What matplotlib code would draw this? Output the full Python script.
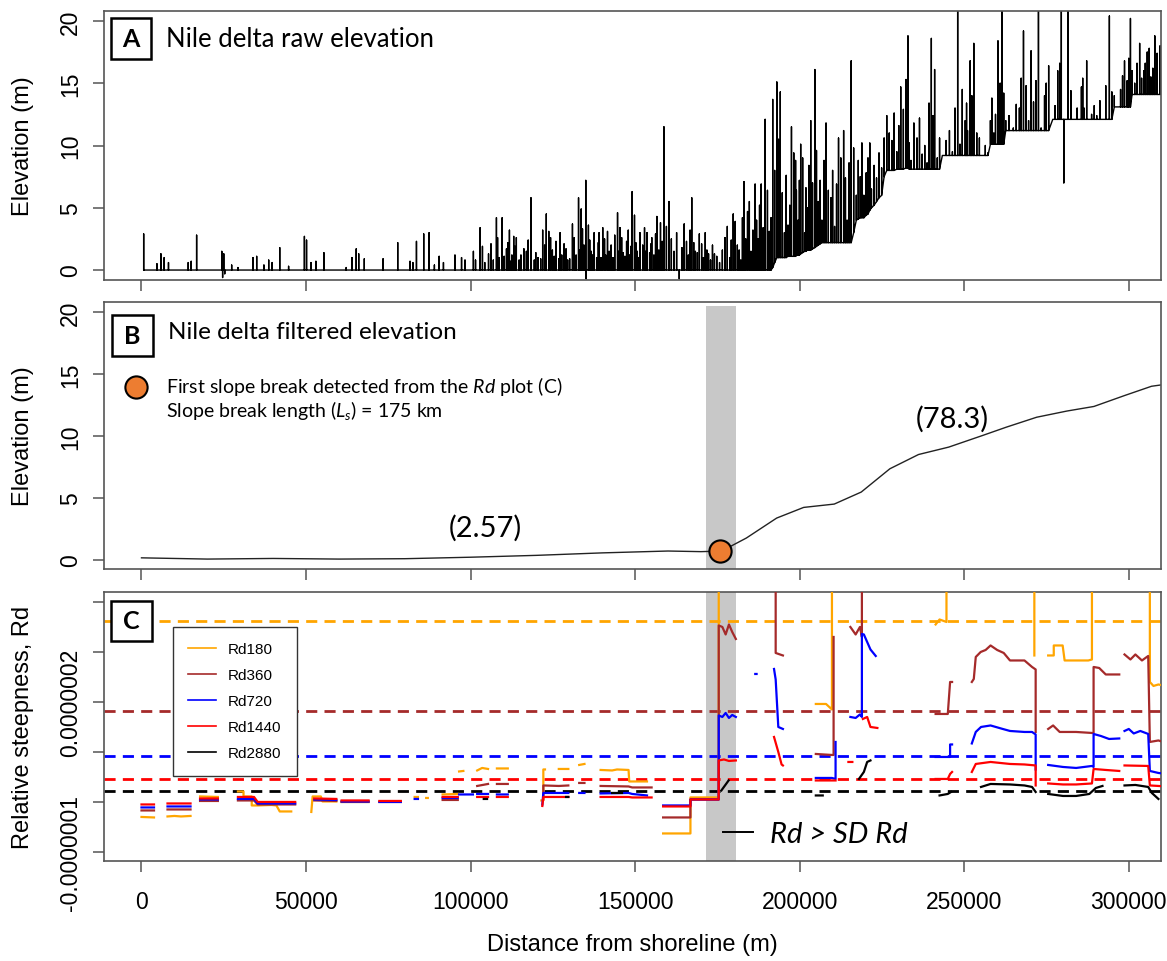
import numpy as np
import matplotlib.pyplot as plt
from matplotlib.lines import Line2D
from matplotlib.patches import Rectangle

plt.rcParams['font.family'] = ['Liberation Sans', 'DejaVu Sans']
plt.rcParams['mathtext.fontset'] = 'custom'
plt.rcParams['mathtext.rm'] = 'Lato'
plt.rcParams['mathtext.it'] = 'Lato:italic'

# =====================================================
# Data
# =====================================================

x_ticks = [0, 50000, 100000, 150000, 200000, 250000, 300000]

# raw elevation: (distance m, local floor m, spike m)
raw_spikes = [
    (660, 0, 2.9), (4700, 0, 0.5), (5900, 0, 1.3), (6900, 0, 1.0), (8200, 0, 0.6),
    (14200, 0, 0.6), (15100, 0, 0.7), (16750, 0, 2.8), (24400, 0, 1.5), (24650, 0, -0.6),
    (25000, 0, 1.3), (25300, 0, -0.3), (27400, 0, 0.4), (29300, 0, 0.2), (33900, 0, 1.0),
    (35000, 0, 1.1), (37200, 0, 0.4), (38650, 0, 0.8), (39700, 0, 0.6), (42000, 0, 1.8),
    (44700, 0, 0.3), (49500, 0, 2.7), (50150, 0, 2.4), (51500, 0, 0.6), (53000, 0, 0.7),
    (55400, 0, 1.4), (62200, 0, 0.2), (63950, 0, 1.0), (65250, 0, 1.7), (66000, 0, 1.3),
    (67700, 0, 0.9), (73400, 0, 0.9), (77850, 0, 2.2), (81600, 0, 0.7), (82450, 0, 0.6),
    (83550, 0, 2.3), (85750, 0, 2.9), (87400, 0, 3.0), (89000, 0, 0.4), (90450, 0, 1.1),
    (91750, 0, 0.6), (95250, 0, 1.2), (97250, 0, 1.0), (98300, 0, 0.8), (100850, 0, 1.5),
    (102900, 0, 3.4), (105450, 0, 1.3), (106900, 0, 0.8), (107850, 0, 4.2), (108700, 0, 1.0),
    (109600, 0, 4.2), (110900, 0, 1.7), (111800, 0, 3.2), (112550, 0, 1.2), (113100, 0, 2.7),
    (113900, 0, 2.6), (114750, 0, 0.8), (116200, 0, 1.7), (116950, 0, 1.5), (118350, 0, 5.8),
    (119350, 0, 0.8), (120450, 0, 1.0), (121900, 0, 3.2), (123000, 0, 4.5), (123750, 0, 3.1),
    (124850, 0, 1.6), (125950, 0, 2.3), (126800, 0, 0.9), (127700, 0, 1.2), (129000, 0, 1.7),
    (130100, 0, 0.9), (130950, 0, 3.7), (132050, 0, 1.2), (132800, 0, 5.8), (133600, 0, 4.9),
    (134450, 0, 2.0), (135000, 0, 7.2), (135100, 0, -0.7), (135800, 0, 3.6), (136650, 0, 1.5),
    (137550, 0, 3.0), (138300, 0, 1.0), (139050, 0, 3.0), (140150, 0, 3.4), (141050, 0, 1.2),
    (142100, 0, 1.5), (143250, 0, 1.0), (144650, 0, 4.6), (145400, 0, 3.4), (146300, 0, 1.4),
    (147400, 0, 2.3), (148250, 0, 1.2), (149100, 0, 6.3), (149800, 0, 4.4), (150650, 0, 1.5),
    (151450, 0, 3.0), (152850, 0, 3.4), (153600, 0, 3.0), (154400, 0, 1.4), (155050, 0, 2.6),
    (156600, 0, 4.3), (157700, 0, 3.8), (158750, 0, 11.5), (160300, 0, 5.5), (161800, 0, 1.5),
    (163400, 0, -0.7), (164900, 0, 3.7), (166150, 0, 1.2), (167200, 0, 5.8), (168300, 0, 1.5),
    (169500, 0, 2.9), (170750, 0, 1.0), (171800, 0, 1.6), (172900, 0, 0.8), (174100, 0, 1.3),
    (175650, 0, 0.6), (178000, 0, 3.5), (178750, 0, 1.0), (179800, 0, 4.5), (181050, 0, 2.0),
    (182100, 0, 0.8), (183050, 0, 7.1), (184150, 0, 4.7), (185200, 0, 1.5), (186450, 0, 6.9),
    (187350, 0, 2.5), (188300, 0, 6.9), (189500, 0, 12.1), (190750, 0, 3.1), (191800, 0.2, 13.7),
    (193050, 1.0, 15.1), (194100, 1.0, 14.3), (195350, 1.0, 3.0), (196450, 1.1, 3.6),
    (197500, 1.1, 11.5), (198750, 1.1, 8.8), (199500, 1.2, 4.0), (200300, 1.3, 10.1),
    (201500, 1.5, 3.0), (202300, 1.6, 5.0), (203350, 1.6, 12.0), (204600, 1.8, 16.1),
    (205650, 2.0, 5.5), (206750, 2.2, 4.0), (208000, 2.2, 11.8), (209500, 2.2, 5.8),
    (210600, 2.2, 3.5), (211800, 2.2, 10.6), (213350, 2.2, 11.2), (214400, 2.2, 4.0),
    (215650, 2.2, 16.8), (217200, 4.0, 6.0), (218400, 4.2, 7.5), (219500, 4.2, 6.0),
    (220750, 4.5, 9.0), (221800, 5.0, 6.5), (223350, 5.5, 7.4), (224900, 6.0, 8.2),
    (225650, 7.5, 10.6), (226450, 8.0, 12.4), (228000, 8.0, 10.4), (229500, 8.1, 9.5),
    (230700, 8.1, 14.7), (232300, 8.2, 15.3), (232900, 8.2, 18.8), (233800, 8.1, 8.8),
    (235650, 8.1, 10.6), (237200, 8.1, 9.3), (238700, 8.1, 8.6), (240000, 8.1, 18.6),
    (241000, 8.1, 16.1), (241800, 8.1, 9.0), (243350, 9.2, 9.2), (246400, 9.2, 9.5),
    (248000, 9.2, 21.0), (248700, 9.2, 10.1), (250300, 9.2, 12.0), (251000, 9.2, 11.2),
    (251800, 9.2, 16.8), (252900, 9.2, 18.2), (253800, 9.2, 11.0), (255650, 9.2, 9.2),
    (257200, 9.2, 9.4), (257950, 10.1, 12.0), (259000, 10.1, 11.0), (259500, 10.1, 12.5),
    (260250, 10.1, 18.4), (261500, 10.1, 21.0), (262600, 11.2, 12.0), (264900, 11.2, 11.4),
    (266750, 11.2, 13.0), (268000, 11.2, 19.2), (269550, 11.2, 12.0), (271050, 11.2, 13.5),
    (272550, 11.2, 21.0), (273350, 11.2, 11.4), (274400, 11.2, 14.0), (275650, 11.2, 16.4),
    (276900, 12.1, 12.1), (278400, 12.1, 16.0), (279500, 12.1, 21.0), (280250, 12.1, 7.0),
    (281500, 12.1, 21.0), (283300, 12.1, 12.1), (285600, 12.1, 14.7), (286400, 12.1, 13.0),
    (287200, 12.1, 16.8), (288700, 12.1, 12.5), (290250, 12.1, 12.4), (294100, 12.1, 20.4),
    (294850, 12.1, 14.3), (296400, 13.1, 13.1), (297500, 13.1, 14.5), (298700, 13.1, 16.8),
    (299500, 13.1, 15.2), (300500, 13.1, 20.2), (301800, 14.1, 15.0), (303300, 14.1, 18.2),
    (304550, 14.1, 16.0), (305600, 14.1, 17.5), (306700, 14.1, 15.5), (307900, 14.1, 18.8),
    (309500, 14.1, 18.0), (311000, 14.1, 14.1),
]

# smaller spikes in the dense stretches
raw_spikes_fill = [
    (101500, 0, 0.8), (103600, 0, 1.9), (104300, 0, 0.6), (106200, 0, 2.1), (108200, 0, 2.6),
    (110200, 0, 1.1), (111300, 0, 2.2), (112100, 0, 0.7), (113500, 0, 1.9), (115300, 0, 1.2),
    (117500, 0, 2.4), (119800, 0, 1.4), (121300, 0, 0.9), (122500, 0, 2.0), (124300, 0, 2.6),
    (125400, 0, 1.1), (127200, 0, 3.0), (128400, 0, 2.1), (129500, 0, 0.8), (131500, 0, 2.6),
    (133200, 0, 1.6), (134000, 0, 3.3), (136200, 0, 2.4), (137000, 0, 1.2), (138800, 0, 2.2),
    (139600, 0, 1.0), (140700, 0, 2.5), (141600, 0, 3.1), (142700, 0, 2.0), (143800, 0, 2.8),
    (145000, 0, 1.5), (145900, 0, 2.6), (146900, 0, 1.1), (147900, 0, 3.2), (148700, 0, 1.9),
    (150200, 0, 2.2), (151000, 0, 1.0), (152300, 0, 2.0), (153200, 0, 1.5), (154800, 0, 2.1),
    (155700, 0, 1.2), (156200, 0, 2.9), (157200, 0, 1.6), (158200, 0, 2.3),
    (159500, 0, 3.5), (161000, 0, 2.5), (162600, 0, 3.0), (164200, 0, 1.8), (165600, 0, 2.3),
    (166700, 0, 3.2), (167800, 0, 2.2), (168900, 0, 1.4), (170200, 0, 2.1), (171300, 0, 3.0),
    (172300, 0, 1.3), (173500, 0, 2.0), (174800, 0, 1.1), (176500, 0, 1.6), (177300, 0, 2.6),
    (179200, 0, 2.4), (180400, 0, 3.9), (181600, 0, 1.6), (182600, 0, 4.2), (183600, 0, 2.5),
    (184700, 0, 5.5), (185800, 0, 3.2), (186900, 0, 4.0), (187800, 0, 5.2), (188900, 0, 3.4),
    (190200, 0, 6.4), (191300, 0, 4.2),
    (192400, 0.6, 8.0), (193600, 1.0, 10.5), (194700, 1.0, 6.2), (195900, 1.0, 7.6),
    (197000, 1.1, 5.2), (198200, 1.1, 9.4), (199000, 1.2, 6.4), (199900, 1.2, 7.2),
    (200900, 1.4, 9.0), (201900, 1.5, 6.6), (202800, 1.6, 8.4), (203900, 1.7, 7.0),
    (205100, 1.9, 9.6), (206200, 2.1, 7.2), (207400, 2.2, 8.8), (208700, 2.2, 6.4),
    (210000, 2.2, 8.0), (211200, 2.2, 6.9), (212500, 2.2, 9.0), (213900, 2.2, 7.4),
    (215000, 2.2, 8.6), (216400, 3.0, 9.8), (217800, 4.1, 8.8), (218900, 4.2, 10.2),
    (220200, 4.4, 7.8), (221300, 4.8, 10.2), (222600, 5.2, 8.4), (224100, 5.8, 9.4),
    (227200, 8.0, 11.0), (228700, 8.0, 12.6), (230100, 8.1, 11.6), (231500, 8.1, 12.9),
    (233300, 8.1, 10.2), (234700, 8.1, 11.8), (236400, 8.1, 12.2), (238000, 8.1, 10.0),
    (239300, 8.1, 13.4), (240500, 8.1, 12.4), (242500, 8.1, 10.6),
    (244500, 9.2, 10.4), (245500, 9.2, 11.2), (247200, 9.2, 13.0), (249400, 9.2, 14.5),
    (250700, 9.2, 13.4), (252300, 9.2, 14.0), (254600, 9.2, 10.6), (256400, 9.2, 10.0),
    (258400, 10.1, 13.8), (260900, 10.1, 15.0), (262000, 10.1, 14.2), (263600, 11.2, 12.4),
    (265800, 11.2, 13.3), (267300, 11.2, 15.4), (268800, 11.2, 14.8), (270300, 11.2, 17.6),
    (271800, 11.2, 15.2), (274900, 11.2, 15.0), (277600, 12.1, 13.2), (279000, 12.1, 16.6),
    (282400, 12.1, 14.4), (284300, 12.1, 13.0), (286000, 12.1, 15.4), (289500, 12.1, 13.2),
    (291200, 12.1, 13.6), (293000, 12.1, 14.8), (295600, 13.1, 14.0), (298100, 13.1, 15.6),
    (300000, 13.1, 17.0), (301000, 14.1, 16.0), (302500, 14.1, 16.6), (303900, 14.1, 15.4),
    (305000, 14.1, 16.6), (306200, 14.1, 17.8), (307300, 14.1, 16.2), (308600, 14.1, 17.4),
    (310200, 14.1, 16.4),
]

# filtered elevation
filt_x = [0, 20000, 40000, 60000, 80000, 100000, 120000, 140000, 160000, 170000,
          176300, 183800, 193000, 201200, 210500, 218700, 227400, 236100, 245300,
          255600, 262800, 272000, 281200, 289400, 298700, 306900, 312300]
filt_y = [0.15, 0.05, 0.1, 0.05, 0.08, 0.2, 0.35, 0.55, 0.7, 0.65,
          0.7, 1.75, 3.36, 4.22, 4.49, 5.46, 7.34, 8.49, 9.09,
          10.03, 10.7, 11.5, 12.0, 12.37, 13.25, 14.0, 14.2]

break_x = 175700
break_y = 0.7
band = (171500, 180500)

# Rd series, values in 1e-8 ; one inner list per plotted run
rd180 = [
    [(0, -3.0), (3800, -3.1)],
    [(7900, -2.9), (10000, -2.8), (12000, -2.9), (14900, -2.8)],
    [(17800, 1.1), (23200, 1.0)],
    [(29300, 2.1), (31000, 2.1), (31000, 1.1), (33500, 1.1), (33500, -0.7), (35300, -0.7),
     (39500, -0.6), (41000, -0.7), (42000, -1.9), (45500, -1.9)],
    [(51600, -2.0), (52000, 1.1), (54500, 1.1), (55000, 0.1), (59200, 0.1)],
    [(60800, 0.0), (69000, 0.0)],
    [(72300, 0.1), (78800, 0.1)],
    [(83000, 1.0), (84000, 1.0)],
    [(86500, 0.8), (87000, 0.8)],
    [(91500, 1.5), (96100, 1.6)],
    [(96500, 6.1), (97800, 6.2)],
    [(102000, 6.3), (103500, 6.8), (105300, 6.6)],
    [(108000, 6.7), (111300, 6.7)],
    [(121500, 0.3), (122100, 0.3), (122100, 6.5), (122600, 6.5)],
    [(126800, 6.6), (129700, 6.6)],
    [(133000, 7.4), (134600, 7.6)],
    [(139500, 6.4), (143000, 6.3), (144500, 6.5), (148000, 6.4), (148200, 4.1), (153600, 4.1)],
    [(158500, -6.3), (166800, -6.3), (166800, 0.9), (175400, 0.9), (175400, 60)],
    [(204900, 19.6), (208000, 19.6), (209800, 18.5), (209800, 60)],
    [(241300, 35.5), (242500, 36.5), (244600, 36.0), (244600, 60)],
    [(271300, 29.3), (271300, 60)],
    [(275500, 29.3), (277200, 29.3), (277200, 31.3), (279900, 31.3), (280500, 28.3),
     (287700, 28.3), (288800, 28.5), (288800, 60)],
    [(306400, 60), (306400, 24.0), (307500, 23.2), (309000, 23.5), (312500, 23.0)],
]

rd360 = [
    [(0, -1.7), (3800, -1.7)],
    [(7900, -1.5), (14900, -1.5)],
    [(17800, 0.2), (23200, 0.2)],
    [(29300, 0.3), (34200, 0.3), (35300, -0.5), (46700, -0.5)],
    [(52500, 0.3), (59200, 0.2)],
    [(60800, 0.0), (69000, 0.0)],
    [(72300, 0.0), (78800, 0.0)],
    [(91500, 0.4), (96100, 0.4)],
    [(102000, 3.2), (105300, 3.6)],
    [(108000, 3.6), (111300, 3.6)],
    [(122100, 0.5), (122100, 3.3), (126800, 3.2), (129700, 3.3)],
    [(133000, 3.8), (134600, 3.8)],
    [(139500, 3.2), (148000, 3.1), (149100, 2.9), (155000, 2.9)],
    [(158500, -3.1), (166800, -3.1), (166800, 0.5), (175400, 0.5), (175400, 35.3),
     (176500, 35.0), (177500, 33.5), (178500, 35.5), (179500, 34.0), (180600, 32.6)],
    [(192700, 60), (192700, 29.8), (194900, 29.3)],
    [(204900, 9.6), (209800, 9.4), (210300, 9.4), (210300, 33.0)],
    [(215400, 35.0), (217000, 33.5), (218300, 35.0), (218900, 33.0), (218900, 60)],
    [(241300, 17.6), (245000, 17.6), (245700, 24.0), (246300, 24.0)],
    [(252300, 24.0), (252900, 24.6), (253500, 29.0), (255000, 30.0), (256500, 30.4),
     (258000, 31.3), (260000, 30.4), (262000, 29.8), (263900, 28.3), (268300, 28.3),
     (270600, 27.0), (271700, 26.5), (271700, 14.0)],
    [(275500, 14.6), (277000, 15.3), (279000, 14.0), (284000, 14.0), (288800, 13.8),
     (289300, 13.8), (289300, 27.0), (291000, 26.8), (293000, 25.5), (297100, 25.5)],
    [(298700, 29.5), (300500, 28.5), (302000, 29.5), (304000, 28.3), (305900, 29.2),
     (306400, 12.0), (309000, 12.3), (311400, 11.8)],
]

rd720 = [
    [(0, -1.1), (3800, -1.1)],
    [(7900, -0.9), (14900, -0.9)],
    [(17800, 0.5), (23200, 0.5)],
    [(29300, 0.6), (34200, 0.6), (35300, -0.3), (46700, -0.3)],
    [(52500, 0.5), (59200, 0.4)],
    [(60800, 0.1), (69000, 0.1)],
    [(72300, 0.0), (78800, 0.0)],
    [(83000, 0.6), (84000, 0.6)],
    [(91500, 0.8), (96100, 0.8)],
    [(96500, 1.5), (100700, 1.5)],
    [(102000, 1.6), (105300, 1.6)],
    [(108000, 1.5), (111300, 1.5)],
    [(121800, -0.5), (122100, 1.8), (126800, 1.8), (129700, 1.8)],
    [(133000, 1.8), (134600, 1.8)],
    [(139500, 1.7), (148000, 1.8), (149100, 1.6), (153600, 1.3)],
    [(158500, -0.7), (166800, -0.7), (166800, 0.5), (175400, 0.5), (175400, 17.3),
     (176500, 17.0), (177500, 17.8), (178500, 16.8), (179500, 17.4), (180600, 17.0)],
    [(186500, 25.6), (186900, 25.6)],
    [(192200, 26.6), (192700, 24.5), (193500, 15.0), (194900, 14.6)],
    [(204900, 4.8), (209800, 4.8), (210900, 4.6), (210900, 12.0)],
    [(215400, 17.0), (217000, 16.8), (218300, 17.5), (218900, 17.0), (218900, 33.6),
     (219500, 33.5), (220500, 32.0), (221500, 30.5), (223100, 29.2)],
    [(241300, 9.0), (245000, 9.0), (245700, 9.0), (245700, 11.5), (246300, 11.5)],
    [(252300, 11.7), (253500, 14.0), (255100, 15.0), (258000, 15.3), (261700, 14.6),
     (263900, 14.2), (268300, 14.0), (270600, 14.0), (271700, 13.5), (271700, 6.5)],
    [(275500, 7.4), (280000, 7.0), (284000, 6.8), (288800, 7.2), (289300, 7.0),
     (289300, 13.6), (291500, 13.2), (294000, 12.6), (297100, 12.7)],
    [(298700, 14.2), (300000, 14.6), (301500, 13.7), (303500, 14.2), (305900, 13.6),
     (306400, 6.2), (309000, 5.8), (311400, 5.6)],
]

rd1440 = [
    [(0, -0.5), (3800, -0.5)],
    [(7900, -0.3), (14900, -0.3)],
    [(17800, 0.7), (23200, 0.7)],
    [(29300, 1.0), (34200, 1.0), (35300, 0.0), (46700, 0.0)],
    [(52500, 0.7), (59200, 0.6)],
    [(60800, 0.3), (69000, 0.3)],
    [(72300, 0.2), (78800, 0.2)],
    [(91500, 1.0), (96100, 1.0)],
    [(102000, 1.0), (105300, 1.0)],
    [(108000, 1.0), (111300, 1.0)],
    [(121800, -0.8), (122100, 1.0), (126800, 1.0), (129700, 1.0)],
    [(139500, 1.0), (148000, 1.0), (149100, 0.9), (155000, 0.9)],
    [(158500, -0.9), (166800, -0.9), (166800, 0.5), (175400, 0.5), (175400, 8.3),
     (177000, 8.5), (178500, 8.2), (180600, 8.3)],
    [(192200, 13.0), (193500, 10.0), (194500, 7.5), (194900, 7.3)],
    [(204900, 4.3), (209800, 4.3), (210900, 4.3)],
    [(214800, 8.0), (216000, 8.0)],
    [(219200, 16.6), (220500, 17.0), (221500, 15.0), (223600, 14.8)],
    [(241300, 4.6), (245000, 4.6), (245700, 5.6), (246300, 6.0)],
    [(252300, 6.0), (253500, 7.6), (258000, 8.0), (263900, 7.6), (268300, 7.5),
     (271700, 7.3), (271700, 3.3)],
    [(275500, 3.7), (280000, 3.5), (284000, 3.5), (288800, 3.7), (289300, 6.6),
     (293000, 6.4), (297100, 6.2)],
    [(298700, 7.3), (305900, 7.2), (306400, 3.3), (309000, 3.2), (311400, 3.1)],
]

rd2880 = [
    [(104000, 0.6), (105000, 0.6)],
    [(129000, 1.0), (129700, 1.0)],
    [(143000, 1.8), (146000, 1.8)],
    [(176200, 2.3), (177300, 3.3), (178400, 4.3)],
    [(204900, 1.3), (207000, 1.3)],
    [(218000, 4.6), (219500, 6.0), (220500, 8.0), (221500, 8.3)],
    [(242500, 1.3), (245000, 1.6), (246000, 2.0)],
    [(255100, 3.0), (258000, 3.6), (263900, 3.5), (268300, 3.3), (270600, 3.0), (271700, 2.0)],
    [(275500, 1.6), (280000, 1.2), (284000, 1.2), (288000, 1.6), (290000, 2.8), (292000, 3.2)],
    [(298700, 3.3), (302000, 3.4), (305900, 3.0), (307000, 1.8), (309000, 0.6)],
]

rd_names = ['Rd180', 'Rd360', 'Rd720', 'Rd1440', 'Rd2880']
rd_colors = ['#FFA500', '#A52A2A', '#0000FF', '#FF0000', '#000000']
rd_sd = [36.1, 18.1, 9.1, 4.5, 2.1]   # SD thresholds, 1e-8

c_ticks = [-1e-7, 0, 1e-7, 2e-7, 3e-7, 4e-7]
c_ticklabels = ['-0.0000001', '', '', '0.0000002', '', '']

XLIM = (-11400, 309800)
EDGE = '#555555'
lato = ['Lato', 'DejaVu Sans']


def runs_xy(runs, scale=1e-8):
    xs, ys = [], []
    for run in runs:
        for x, y in run:
            xs.append(x)
            ys.append(y * scale)
        xs.append(np.nan)
        ys.append(np.nan)
    return np.array(xs, dtype=float), np.array(ys, dtype=float)


def frame(ax, show_x=False):
    for s in ax.spines.values():
        s.set_color(EDGE)
        s.set_linewidth(1.2)
    ax.set_xlim(XLIM)
    ax.set_xticks(x_ticks)
    ax.tick_params(length=8, width=1.1, color=EDGE, labelsize=16.5)
    ax.tick_params(axis='x', pad=13)
    ax.tick_params(axis='y', pad=8)
    if show_x:
        ax.set_xticklabels([str(t) for t in x_ticks])
    else:
        ax.set_xticklabels([])
    for lab in ax.get_yticklabels():
        lab.set_rotation(90)
        lab.set_va('center')
    ax.yaxis.set_label_coords(-0.066, 0.5)


def tag(ax, letter, left, bottom, w, h):
    ax.add_patch(Rectangle((left, bottom), w, h, transform=ax.transAxes,
                           fc='white', lw=1.8, ec='black', zorder=5))
    ax.text(left + w / 2, bottom + h / 2, letter, transform=ax.transAxes,
            ha='center', va='center', fontsize=18, fontweight='bold',
            family=lato, zorder=6)


fig = plt.figure(figsize=(11.67, 9.62), dpi=100)

axA = fig.add_axes([0.0891, 0.7079, 0.9058, 0.2796])
axB = fig.add_axes([0.0891, 0.4075, 0.9058, 0.2775])
axC = fig.add_axes([0.0891, 0.1040, 0.9058, 0.2796])

# =====================================================
# A : raw elevation
# =====================================================

raw = np.array(sorted(raw_spikes + raw_spikes_fill), dtype=float)
raw_px = np.repeat(raw[:, 0], 3)
raw_py = np.column_stack([raw[:, 1], raw[:, 2], raw[:, 1]]).ravel()

axA.plot(raw_px, raw_py, color='black', lw=1.0)
axA.set_ylim(-0.8, 20.8)
axA.set_yticks([0, 5, 10, 15, 20])
axA.set_ylabel('Elevation (m)', fontsize=17)
frame(axA)
tag(axA, 'A', 0.0066, 0.8216, 0.0378, 0.152)
axA.text(0.0587, 0.896, 'Nile delta raw elevation', transform=axA.transAxes,
         ha='left', va='center', fontsize=18.5, family=lato)

# =====================================================
# B : filtered elevation
# =====================================================

axB.axvspan(band[0], band[1], ymin=0, ymax=0.985, color='#C8C8C8', lw=0, zorder=0)
axB.plot(filt_x, filt_y, color='#222222', lw=1.0)
axB.plot([break_x], [break_y], 'o', ms=16, mfc='#ED7D31', mec='black', mew=1.5, zorder=5)
axB.set_ylim(-0.75, 20.8)
axB.set_yticks([0, 5, 10, 15, 20])
axB.set_ylabel('Elevation (m)', fontsize=17)
frame(axB)
tag(axB, 'B', 0.0076, 0.798, 0.0388, 0.1536)
axB.text(0.0605, 0.888, 'Nile delta filtered elevation', transform=axB.transAxes,
         ha='left', va='center', fontsize=17.5, family=lato)
axB.plot([0.0307], [0.682], 'o', ms=16, mfc='#ED7D31', mec='black', mew=1.5,
         transform=axB.transAxes, clip_on=False)
axB.text(0.0587, 0.689, r'First slope break detected from the $\mathit{Rd}$ plot (C)',
         transform=axB.transAxes, ha='left', va='center', fontsize=14, family=lato)
axB.text(0.0587, 0.599, r'Slope break length ($\mathit{L_s}$) = 175 km',
         transform=axB.transAxes, ha='left', va='center', fontsize=14, family=lato)
axB.text(104500, 2.6, '(2.57)', ha='center', va='center', fontsize=21, family=lato)
axB.text(246500, 11.4, '(78.3)', ha='center', va='center', fontsize=21, family=lato)

# =====================================================
# C : relative steepness
# =====================================================

axC.axvspan(band[0], band[1], color='#C8C8C8', lw=0, zorder=0)
for runs, col in zip([rd180, rd360, rd720, rd1440, rd2880], rd_colors):
    xs, ys = runs_xy(runs)
    axC.plot(xs, ys, color=col, lw=1.6, zorder=3)
for sd, col in zip(rd_sd, rd_colors):
    axC.axhline(sd * 1e-8, color=col, lw=2.0, dashes=(4, 2.6), zorder=2)

axC.set_ylim(-1.18e-7, 4.2e-7)
axC.set_yticks(c_ticks)
axC.set_yticklabels(c_ticklabels)
axC.set_ylabel('Relative steepness, Rd', fontsize=17)
axC.set_xlabel('Distance from shoreline (m)', fontsize=17, labelpad=14)
frame(axC, show_x=True)
tag(axC, 'C', 0.0066, 0.818, 0.0388, 0.1487)

handles = [Line2D([], [], color=c, lw=1.2) for c in rd_colors]
leg = axC.legend(handles, rd_names, loc='upper left', bbox_to_anchor=(0.0653, 0.870),
                 borderaxespad=0, fontsize=11, frameon=True, fancybox=False,
                 edgecolor='#333333', framealpha=1, handlelength=1.8,
                 handletextpad=0.8, labelspacing=0.79, borderpad=1.0)
leg.get_frame().set_linewidth(1.0)
leg.set_zorder(6)

axC.plot([176600, 185700], [-6.0e-8, -6.0e-8], color='black', lw=1.4)
axC.text(191000, -6.4e-8, 'Rd > SD Rd', ha='left', va='center', fontsize=21,
         fontstyle='italic', family=lato)

fig.savefig('out.png', dpi=100)
